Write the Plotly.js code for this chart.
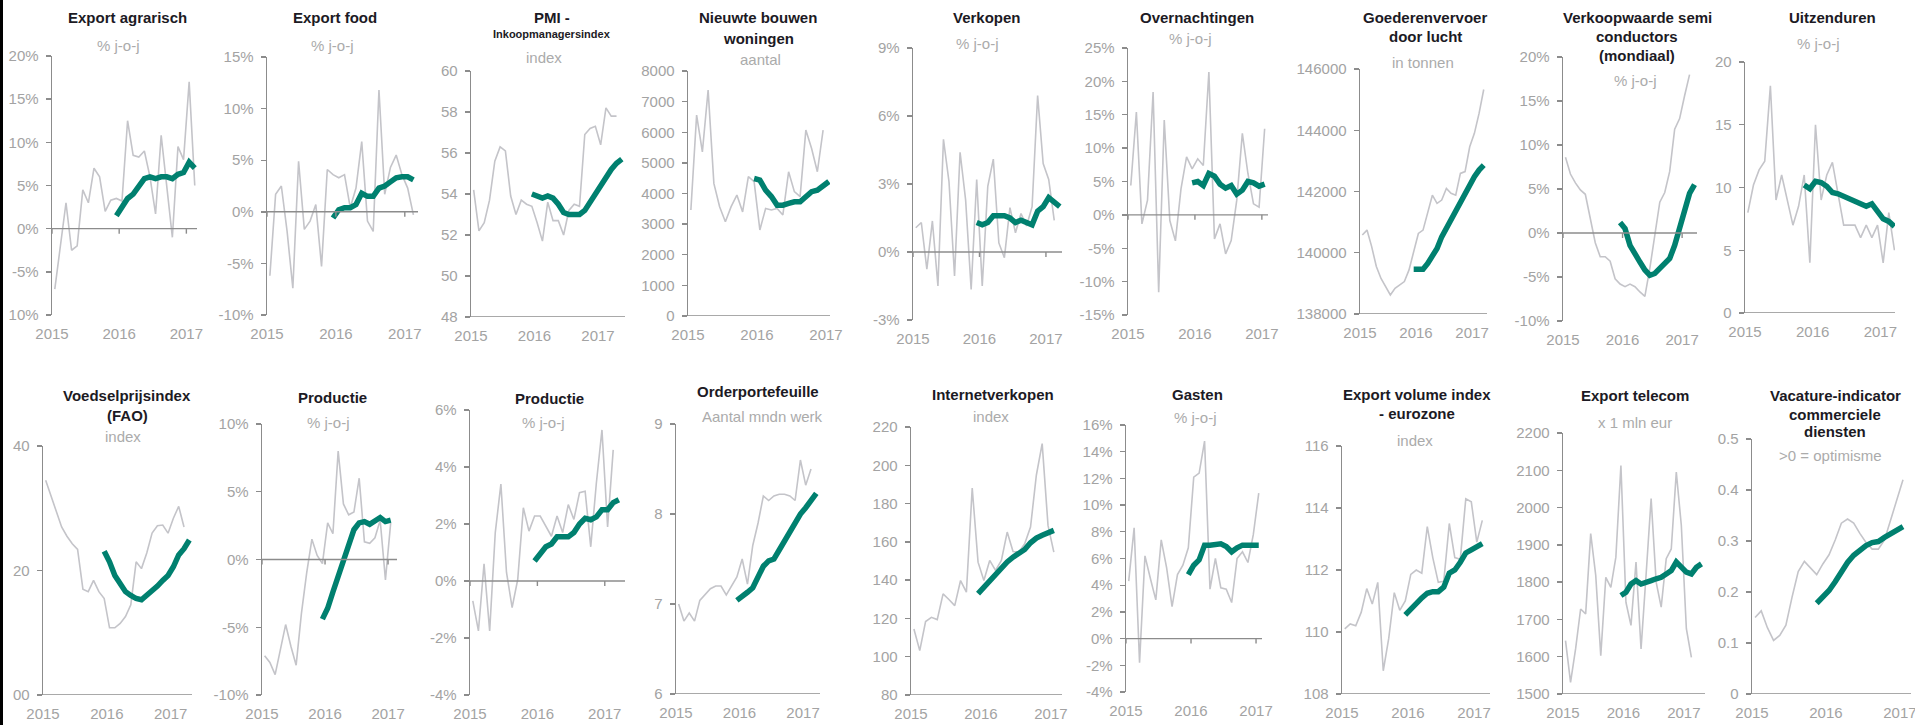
<!DOCTYPE html>
<html><head><meta charset="utf-8">
<script src="https://cdn.plot.ly/plotly-3.0.1.min.js"></script>
<style>html,body{margin:0;padding:0;background:#fff;overflow:hidden}#chart{width:1915px;height:725px}</style>
</head><body><div id="chart"></div>
<script>
// ---------- DATA (monthly, Jan 2015 onward; trend starts later) ----------
const yearLabels = ["2015", "2016", "2017"];

const titles = [
  ["Export agrarisch"], ["Export food"], ["PMI -"], ["Nieuwte bouwen", "woningen"], ["Verkopen"],
  ["Overnachtingen"], ["Goederenvervoer", "door lucht"], ["Verkoopwaarde semi", "conductors", "(mondiaal)"], ["Uitzenduren"],
  ["Voedselprijsindex", "(FAO)"], ["Productie"], ["Productie"], ["Orderportefeuille"], ["Internetverkopen"],
  ["Gasten"], ["Export volume index", "- eurozone"], ["Export telecom"], ["Vacature-indicator", "commerciele", "diensten"]
];
const pmiSubTitle = "Inkoopmanagersindex";
const subtitles = [
  "% j-o-j", "% j-o-j", "index", "aantal", "% j-o-j", "% j-o-j", "in tonnen", "% j-o-j", "% j-o-j",
  "index", "% j-o-j", "% j-o-j", "Aantal mndn werk", "index", "% j-o-j", "index", "x 1 mln eur", ">0 = optimisme"
];

const exportAgrarisch = [-7, -2, 3, -2.5, -2, 4.5, 3, 7, 6, 2, 3.3, 3.5, 3.2, 12.5, 8.5, 8.3, 9, 6, 1.7, 10.8, 5, -1, 9.5, 8, 17, 5];
const exportAgrarischTrend = [1.5, 2.5, 3.5, 4, 5, 5.8, 6, 5.8, 6, 6, 5.8, 6.3, 6.5, 7.7, 7];

const exportFood = [-6.2, 1.7, 2.5, -1.9, -7.4, 4.9, -1.7, -0.9, 0.7, -5.3, 4.1, 3.6, 3.3, 3.6, 0.4, 2.3, 6.8, -0.9, -1.9, 11.8, 1.7, 4.3, 5.5, 3.6, 2.3, -0.3];
const exportFoodTrend = [-0.6, 0.2, 0.4, 0.4, 0.7, 1.8, 1.5, 1.5, 2.3, 2.5, 2.9, 3.3, 3.4, 3.4, 3.1];

const pmi = [54.2, 52.2, 52.6, 53.7, 55.6, 56.3, 56.1, 53.9, 53.0, 53.7, 53.5, 53.4, 52.6, 51.7, 53.6, 52.7, 52.7, 52.0, 53.2, 53.5, 53.4, 56.9, 57.2, 57.3, 56.4, 58.2, 57.8, 57.8];
const pmiTrend = [54.0, 53.9, 53.8, 53.9, 53.8, 53.5, 53.1, 53.0, 53.0, 53.0, 53.2, 53.6, 54.0, 54.5, 54.9, 55.2, 55.5, 55.7];

const nieuwbouw = [3460, 6560, 5360, 7380, 4330, 3570, 3080, 3570, 3950, 3400, 4550, 4390, 2810, 3510, 3460, 3510, 3300, 4710, 4060, 3900, 6070, 5470, 4710, 6070];
const nieuwbouwTrend = [4490, 4440, 4110, 3900, 3620, 3620, 3680, 3730, 3730, 3900, 4060, 4110, 4280, 4390];

const verkopen = [1.07, 1.3, -0.76, 1.37, -1.5, 4.97, 3.1, -1.06, 4.4, 2.3, -1.65, 3.2, -1.5, 2.9, 4.1, 0.4, -0.25, 1.96, 0.85, 1.7, 1.15, 2.0, 6.9, 3.9, 3.2, 1.4];
const verkopenTrend = [1.3, 1.2, 1.3, 1.6, 1.6, 1.6, 1.5, 1.3, 1.4, 1.3, 1.2, 1.8, 2.0, 2.4, 2.2, 2.0];

const overnachtingen = [4.4, 15.4, -1.35, 2.2, 18.4, -11.6, 14.2, -0.85, -3.9, 3.9, 8.7, 6.9, 8.4, 7.4, 21.4, -3.6, -1.35, -5.85, -3.85, 2.2, 12.2, 6.2, 1.65, 1.15, 12.9];
const overnachtingenTrend = [4.8, 5.0, 4.4, 6.2, 5.8, 4.6, 4.0, 4.4, 3.1, 3.7, 5.0, 4.8, 4.3, 4.6];

const luchtvracht = [140580, 140740, 140200, 139550, 139160, 138890, 138620, 138840, 138950, 139060, 139440, 140030, 140630, 140740, 141290, 141880, 141610, 141720, 142100, 141940, 141880, 142590, 142650, 143460, 143900, 144550, 145330];
const luchtvrachtTrend = [139460, 139460, 139460, 139650, 139890, 140140, 140520, 140800, 141120, 141450, 141720, 141990, 142270, 142480, 142700, 142860];

const semiconductors = [8.6, 6.7, 5.7, 4.9, 4.4, 1.5, -1.1, -2.7, -2.7, -3.2, -5.2, -5.8, -6.1, -5.8, -6.1, -6.7, -7.2, -4.0, 0.0, 3.5, 4.6, 7.0, 11.8, 13.0, 15.6, 18.0];
const semiconductorsTrend = [1.2, 0.5, -1.4, -2.5, -3.3, -4.2, -4.8, -4.6, -4.1, -3.5, -2.9, -1.4, 0.5, 2.8, 4.5, 5.5];

const uitzenduren = [8.0, 10.2, 11.4, 12.1, 18.1, 9.0, 11.0, 9.0, 7.0, 8.5, 11.0, 4.0, 15.0, 9.0, 11.0, 12.0, 9.5, 7.0, 7.0, 7.0, 6.0, 7.0, 6.0, 7.0, 4.0, 8.0, 5.0];
const uitzendurenTrend = [10.2, 9.9, 10.5, 10.4, 10.1, 9.6, 9.5, 9.3, 9.1, 9.0, 8.8, 8.5, 8.7, 8.1, 7.5, 7.3, 6.9];

const voedselprijs = [34.5, 32.0, 29.3, 27.0, 25.5, 24.3, 23.4, 17.0, 16.6, 18.4, 16.6, 15.5, 10.8, 10.8, 11.5, 12.6, 14.5, 21.4, 20.3, 22.8, 26.0, 27.2, 27.3, 26.0, 28.4, 30.3, 27.0];
const voedselprijsTrend = [23.1, 21.4, 19.2, 17.7, 16.6, 16.0, 15.5, 15.3, 16.0, 16.8, 17.5, 18.4, 19.2, 20.6, 22.5, 23.5, 24.9];

const productieA = [-7.1, -7.6, -8.5, -6.7, -4.8, -6.4, -7.8, -4.0, -1.0, 1.5, 0.3, -0.3, 2.7, 1.9, 8.0, 4.1, 3.3, 3.5, 6.0, 1.3, 1.2, 1.6, 2.9, -1.5, 2.7];
const productieATrend = [-4.4, -3.6, -2.4, -1.2, -0.1, 0.9, 2.2, 2.7, 2.8, 2.6, 2.8, 3.1, 2.8, 2.9];

const productieB = [-0.7, -1.75, 0.6, -1.75, 1.7, 3.4, 0.3, -0.93, 0.06, 2.57, 1.75, 2.28, 2.28, 1.9, 1.57, 2.28, 1.7, 2.68, 2.16, 3.1, 3.15, 1.2, 3.44, 5.3, 1.9, 4.6];
const productieBTrend = [0.7, 0.95, 1.2, 1.3, 1.55, 1.55, 1.55, 1.7, 2.0, 2.2, 2.15, 2.25, 2.5, 2.5, 2.75, 2.85];

const orderportefeuille = [7.0, 6.81, 6.9, 6.81, 7.04, 7.11, 7.17, 7.2, 7.2, 7.1, 7.2, 7.3, 7.5, 7.22, 7.65, 7.9, 8.2, 8.15, 8.2, 8.22, 8.22, 8.2, 8.15, 8.6, 8.32, 8.5];
const orderportefeuilleTrend = [7.04, 7.08, 7.13, 7.18, 7.3, 7.42, 7.48, 7.5, 7.6, 7.7, 7.8, 7.88, 8.0, 8.07, 8.15, 8.23];

const internetverkopen = [114.5, 103.2, 118.4, 120.6, 119.4, 132.8, 129.9, 126.7, 139.8, 133.7, 188.1, 149.4, 139.8, 150.3, 145.1, 150.3, 165.1, 155.0, 154.6, 159.0, 167.7, 194.8, 211.3, 168.6, 154.6];
const internetverkopenTrend = [133, 136.5, 139.5, 142.5, 146, 149.5, 152, 154, 156, 159.5, 162, 163.5, 164.5, 166];

const gasten = [4.3, 8.3, -1.8, 6.2, 4.5, 2.9, 7.4, 5.3, 2.4, 4.8, 5.5, 6.8, 12.1, 12.4, 14.8, 3.7, 6.0, 3.8, 3.7, 2.7, 6.0, 6.5, 5.7, 7.8, 10.9];
const gastenTrend = [4.8, 5.5, 5.9, 7.0, 7.0, 7.1, 7.1, 6.9, 6.5, 6.8, 7.0, 7.0, 7.0, 7.0];

const exportVolume = [110.1, 110.26, 110.2, 110.64, 111.4, 110.9, 111.6, 108.75, 109.8, 111.27, 110.7, 111.0, 111.86, 112.0, 111.9, 113.4, 112.4, 111.6, 111.64, 113.5, 112.4, 112.35, 114.3, 114.2, 112.9, 113.6];
const exportVolumeTrend = [110.55, 110.75, 110.9, 111.1, 111.25, 111.3, 111.3, 111.45, 111.9, 112.0, 112.25, 112.55, 112.65, 112.75, 112.85];

const exportTelecom = [1643, 1531, 1621, 1728, 1715, 1930, 1818, 1603, 1813, 1786, 1867, 2113, 1746, 1684, 1854, 1621, 1820, 2024, 1800, 1733, 1863, 1889, 2095, 1952, 1675, 1598];
const exportTelecomTrend = [1764, 1773, 1795, 1804, 1795, 1798, 1804, 1809, 1813, 1822, 1831, 1854, 1840, 1827, 1822, 1840, 1849];

const vacature = [0.15, 0.163, 0.13, 0.105, 0.115, 0.135, 0.19, 0.24, 0.26, 0.248, 0.234, 0.255, 0.273, 0.302, 0.335, 0.343, 0.335, 0.315, 0.297, 0.284, 0.284, 0.302, 0.343, 0.38, 0.42];
const vacatureTrend = [0.178, 0.19, 0.203, 0.22, 0.24, 0.258, 0.272, 0.282, 0.291, 0.297, 0.299, 0.307, 0.314, 0.321, 0.328];

// tick values / labels
const ticksPct20 = [-10, -5, 0, 5, 10, 15, 20];
const labelsPct20 = ["10%", "-5%", "0%", "5%", "10%", "15%", "20%"];
const ticksPct15 = [-10, -5, 0, 5, 10, 15];
const labelsPct15 = ["-10%", "-5%", "0%", "5%", "10%", "15%"];
const ticksPmi = [48, 50, 52, 54, 56, 58, 60];
const ticksWoningen = [0, 1000, 2000, 3000, 4000, 5000, 6000, 7000, 8000];
const ticksVerkopen = [-3, 0, 3, 6, 9];
const labelsVerkopen = ["-3%", "0%", "3%", "6%", "9%"];
const ticksOvernacht = [-15, -10, -5, 0, 5, 10, 15, 20, 25];
const labelsOvernacht = ["-15%", "-10%", "-5%", "0%", "5%", "10%", "15%", "20%", "25%"];
const ticksLucht = [138000, 140000, 142000, 144000, 146000];
const labelsSemi = ["-10%", "-5%", "0%", "5%", "10%", "15%", "20%"];
const ticksUitzend = [0, 5, 10, 15, 20];
const ticksVoedsel = [0, 20, 40];
const labelsVoedsel = ["00", "20", "40"];
const ticksProdA = [-10, -5, 0, 5, 10];
const labelsProdA = ["-10%", "-5%", "0%", "5%", "10%"];
const ticksProdB = [-4, -2, 0, 2, 4, 6];
const labelsProdB = ["-4%", "-2%", "0%", "2%", "4%", "6%"];
const ticksOrder = [6, 7, 8, 9];
const ticksInternet = [80, 100, 120, 140, 160, 180, 200, 220];
const ticksGasten = [-4, -2, 0, 2, 4, 6, 8, 10, 12, 14, 16];
const labelsGasten = ["-4%", "-2%", "0%", "2%", "4%", "6%", "8%", "10%", "12%", "14%", "16%"];
const ticksVolume = [108, 110, 112, 114, 116];
const ticksTelecom = [1500, 1600, 1700, 1800, 1900, 2000, 2100, 2200];
const ticksVacature = [0, 0.1, 0.2, 0.3, 0.4, 0.5];
const labelsVacature = ["0", "0.1", "0.2", "0.3", "0.4", "0.5"];

// ---------- PANEL SETUP (geometry in page pixels) ----------
const W = 1915, H = 725;
const panels = [
  {s: exportAgrarisch, t: exportAgrarischTrend, t0: 11, yr: [-10, 20], tv: ticksPct20, tt: labelsPct20, box: [52, 197, 56, 315], span: 25.9, tx: 127, ty: [18], sx: 118, sy: 45},
  {s: exportFood, t: exportFoodTrend, t0: 11, yr: [-10, 15], tv: ticksPct15, tt: labelsPct15, box: [267, 418, 57, 315], span: 26.3, tx: 335, ty: [18], sx: 332, sy: 45},
  {s: pmi, t: pmiTrend, t0: 11, yr: [48, 60], tv: ticksPmi, tt: null, box: [471, 625, 71, 317], span: 29.1, tx: 552, ty: [17], sx: 544, sy: 58},
  {s: nieuwbouw, t: nieuwbouwTrend, t0: 11, yr: [0, 8000], tv: ticksWoningen, tt: null, box: [688, 830, 71, 316], span: 24.7, tx: 758, ty: [18, 39], sx: 760, sy: 60},
  {s: verkopen, t: verkopenTrend, t0: 11, yr: [-3, 9], tv: ticksVerkopen, tt: labelsVerkopen, box: [913, 1062, 48, 320], span: 26.9, tx: 987, ty: [18], sx: 978, sy: 43},
  {s: overnachtingen, t: overnachtingenTrend, t0: 11, yr: [-15, 25], tv: ticksOvernacht, tt: labelsOvernacht, box: [1128, 1268, 48, 315], span: 25.1, tx: 1197, ty: [18], sx: 1190, sy: 38},
  {s: luchtvracht, t: luchtvrachtTrend, t0: 11, yr: [138000, 146000], tv: ticksLucht, tt: null, box: [1360, 1487, 69, 314], span: 27.2, tx: 1425, ty: [18, 37], sx: 1423, sy: 62},
  {s: semiconductors, t: semiconductorsTrend, t0: 11, yr: [-10, 20], tv: ticksPct20, tt: labelsSemi, box: [1563, 1697, 57, 321], span: 27.0, tx: 1637, ty: [18, 37, 55], sx: 1635, sy: 80},
  {s: uitzenduren, t: uitzendurenTrend, t0: 10, yr: [0, 20], tv: ticksUitzend, tt: null, box: [1745, 1895, 62, 313], span: 26.6, tx: 1832, ty: [18], sx: 1818, sy: 43},
  {s: voedselprijs, t: voedselprijsTrend, t0: 11, yr: [0, 40], tv: ticksVoedsel, tt: labelsVoedsel, box: [43, 192, 446, 695], span: 28.0, tx: 127, ty: [395, 415], sx: 123, sy: 436},
  {s: productieA, t: productieATrend, t0: 11, yr: [-10, 10], tv: ticksProdA, tt: labelsProdA, box: [262, 397, 424, 695], span: 25.7, tx: 332, ty: [397], sx: 328, sy: 422},
  {s: productieB, t: productieBTrend, t0: 11, yr: [-4, 6], tv: ticksProdB, tt: labelsProdB, box: [470, 625, 410, 695], span: 27.6, tx: 549, ty: [399], sx: 543, sy: 422},
  {s: orderportefeuille, t: orderportefeuilleTrend, t0: 11, yr: [6, 9], tv: ticksOrder, tt: null, box: [676, 820, 424, 694], span: 27.2, tx: 758, ty: [391], sx: 762, sy: 416},
  {s: internetverkopen, t: internetverkopenTrend, t0: 11, yr: [80, 220], tv: ticksInternet, tt: null, box: [911, 1062, 427, 695], span: 25.9, tx: 993, ty: [394], sx: 991, sy: 416},
  {s: gasten, t: gastenTrend, t0: 11, yr: [-4, 16], tv: ticksGasten, tt: labelsGasten, box: [1126, 1262, 425, 692], span: 25.1, tx: 1197, ty: [394], sx: 1195, sy: 417},
  {s: exportVolume, t: exportVolumeTrend, t0: 11, yr: [108, 116], tv: ticksVolume, tt: null, box: [1342, 1490, 446, 694], span: 26.9, tx: 1417, ty: [394, 413], sx: 1415, sy: 440},
  {s: exportTelecom, t: exportTelecomTrend, t0: 11, yr: [1500, 2200], tv: ticksTelecom, tt: null, box: [1563, 1705, 433, 694], span: 28.2, tx: 1635, ty: [395], sx: 1635, sy: 422},
  {s: vacature, t: vacatureTrend, t0: 10, yr: [0, 0.5], tv: ticksVacature, tt: labelsVacature, box: [1752, 1911, 439, 694], span: 25.8, tx: 1835, ty: [395, 414, 432], sx: 1830, sy: 455}
];

const FONT = "Liberation Sans, Arial, sans-serif";
const GREY_LINE = "#c4c4c9";
const TREND = "#00806f";
const AXIS = "#8c8c8c";
const TICKTXT = "#a3a3a3";
const TITLE = "#1c1a24";

const traces = [];
const layout = {
  width: W, height: H, margin: {l: 0, r: 0, t: 0, b: 0},
  paper_bgcolor: "#ffffff", plot_bgcolor: "#ffffff", showlegend: false,
  annotations: [], shapes: []
};

panels.forEach((p, k) => {
  const n = k + 1;
  const xa = n === 1 ? "x" : "x" + n;
  const ya = n === 1 ? "y" : "y" + n;
  const xKey = n === 1 ? "xaxis" : "xaxis" + n;
  const yKey = n === 1 ? "yaxis" : "yaxis" + n;
  const [xL, xR, yT, yB] = p.box;

  traces.push({
    type: "scatter", mode: "lines", xaxis: xa, yaxis: ya, hoverinfo: "skip",
    x: p.s.map((_, i) => i + 0.5), y: p.s,
    line: {color: GREY_LINE, width: 1.6}
  });
  traces.push({
    type: "scatter", mode: "lines", xaxis: xa, yaxis: ya, hoverinfo: "skip",
    x: p.t.map((_, i) => p.t0 + i + 0.5), y: p.t,
    line: {color: TREND, width: 5.5}
  });

  layout[xKey] = {
    domain: [xL / W, xR / W], range: [0, p.span], anchor: ya,
    tickmode: "array", tickvals: [0, 12, 24], ticktext: yearLabels,
    ticks: "", showline: false, showgrid: false, zeroline: false,
    ticklabelstandoff: 8, ticklabeloverflow: "allow",
    tickfont: {family: FONT, size: 15, color: TICKTXT}, fixedrange: true
  };
  layout[yKey] = {
    domain: [1 - yB / H, 1 - yT / H], range: p.yr, anchor: xa,
    tickmode: "array", tickvals: p.tv, ticktext: p.tt || p.tv.map(String),
    showline: true, linecolor: AXIS, linewidth: 1.4,
    ticks: "outside", ticklen: 5, tickwidth: 1.4, tickcolor: AXIS,
    ticklabelstandoff: 4, ticklabeloverflow: "allow",
    showgrid: false, zeroline: false,
    tickfont: {family: FONT, size: 15, color: TICKTXT}, fixedrange: true
  };

  // horizontal axis line crosses at zero (or at the bottom when zero is out of range)
  const cross = Math.max(p.yr[0], 0);
  layout.shapes.push({
    type: "line", xref: xa + " domain", yref: ya, x0: 0, x1: 1, y0: cross, y1: cross,
    line: {color: AXIS, width: 1.4}, layer: "above"
  });
  [0, 12, 24].forEach(v => {
    layout.shapes.push({
      type: "line", xref: xa, yref: ya, x0: v, x1: v,
      ysizemode: "pixel", yanchor: cross, y0: 0, y1: -5,
      line: {color: AXIS, width: 1.4}, layer: "above"
    });
  });

  // titles
  titles[k].forEach((line, j) => {
    layout.annotations.push({
      xref: "paper", yref: "paper", x: p.tx / W, y: 1 - p.ty[j] / H,
      xanchor: "center", yanchor: "middle", showarrow: false,
      text: "<b>" + line + "</b>",
      font: {family: FONT, size: 15, color: TITLE}
    });
  });
  if (k === 2) {
    layout.annotations.push({
      xref: "paper", yref: "paper", x: p.tx / W, y: 1 - 34 / H,
      xanchor: "center", yanchor: "middle", showarrow: false,
      text: "<b>" + pmiSubTitle + "</b>",
      font: {family: FONT, size: 11, color: TITLE}
    });
  }
  layout.annotations.push({
    xref: "paper", yref: "paper", x: p.sx / W, y: 1 - p.sy / H,
    xanchor: "center", yanchor: "middle", showarrow: false,
    text: subtitles[k],
    font: {family: FONT, size: 15, color: "#ababab"}
  });
});

// dark strip along the left edge of the original image
layout.shapes.push({type: "rect", xref: "paper", yref: "paper", x0: 0, x1: 3 / W, y0: 0, y1: 1,
  fillcolor: "#000000", line: {width: 0}, layer: "above"});

Plotly.newPlot("chart", traces, layout, {staticPlot: true, displayModeBar: false});
</script>
</body></html>
